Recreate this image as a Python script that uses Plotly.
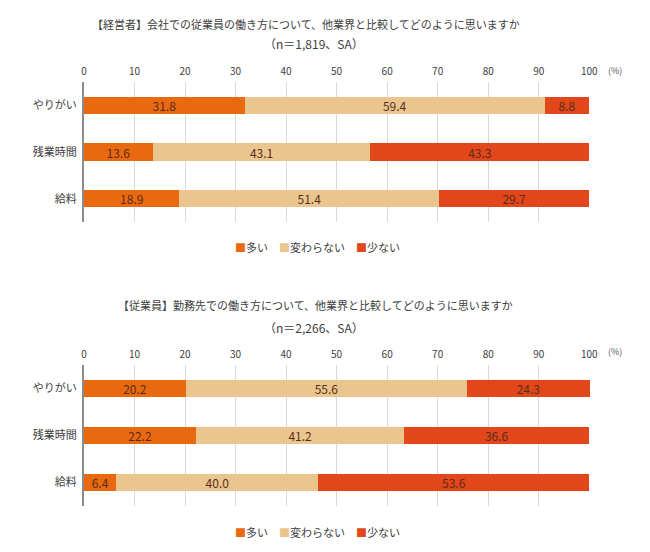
import plotly.graph_objects as go

categories = ["やりがい", "残業時間", "給料"]
series_names = ["多い", "変わらない", "少ない"]
mgr_many = [31.8, 13.6, 18.9]
mgr_same = [59.4, 43.1, 51.4]
mgr_few = [8.8, 43.3, 29.7]
emp_many = [20.2, 22.2, 6.4]
emp_same = [55.6, 41.2, 40.0]
emp_few = [24.3, 36.6, 53.6]
tick_vals = [0, 10, 20, 30, 40, 50, 60, 70, 80, 90, 100]

colors = ["#E8690F", "#EAC68E", "#E2461B"]
W, H = 650, 552
OFF = 8  # page body margin
JP = "Noto Sans CJK JP"

def py(px):
    return 1 - (px - OFF) / H

def px_x(px):
    return (px - OFF) / W

fig = go.Figure()

groups = [
    ([mgr_many, mgr_same, mgr_few], "x", "y"),
    ([emp_many, emp_same, emp_few], "x2", "y2"),
]
for vals_list, xa, ya in groups:
    for name, vals, col in zip(series_names, vals_list, colors):
        fig.add_trace(go.Bar(
            y=categories, x=vals, name=name, orientation="h",
            marker=dict(color=col, line=dict(width=0)),
            text=[f"{v:.1f}" for v in vals], textposition="inside",
            insidetextanchor="middle", textangle=0, constraintext="none",
            cliponaxis=False,
            textfont=dict(family=JP, size=12, color="#5a2c18"),
            xaxis=xa, yaxis=ya, width=0.37, showlegend=False,
            hoverinfo="skip",
        ))

xdom = [px_x(84), px_x(590)]
common_x = dict(
    range=[0, 100.15], tickvals=tick_vals, side="top", showgrid=True,
    gridcolor="#d9d9d9", gridwidth=1, zeroline=False, showline=False,
    ticks="", tickfont=dict(family=JP, size=10, color="#404040"),
    ticklabelstandoff=4, domain=xdom, fixedrange=True, automargin=False,
)
common_y = dict(
    categoryorder="array", categoryarray=categories, range=[2.5, -0.5],
    showline=True, linecolor="#8c8c8c", linewidth=2, showgrid=False,
    ticks="", tickfont=dict(family=JP, size=11, color="#404040"),
    ticklabelstandoff=3, zeroline=False, fixedrange=True, automargin=False,
)
fig.update_layout(
    width=W, height=H, margin=dict(l=0, r=0, t=0, b=0, autoexpand=False),
    paper_bgcolor="white", plot_bgcolor="white",
    barmode="stack", showlegend=False, uniformtext=dict(mode=False),
    font=dict(family=JP, color="#404040"),
    xaxis=dict(**common_x, anchor="y"),
    yaxis=dict(**common_y, domain=[py(222), py(82)], anchor="x"),
    xaxis2=dict(**common_x, anchor="y2"),
    yaxis2=dict(**common_y, domain=[py(506), py(365)], anchor="x2"),
)

titles = [
    ("【経営者】会社での従業員の働き方について、他業界と比較してどのように思いますか", 306, 24, 11),
    ("（n＝1,819、SA）", 314, 44, 12),
    ("【従業員】勤務先での働き方について、他業界と比較してどのように思いますか", 315, 305, 11),
    ("（n＝2,266、SA）", 314, 327, 12),
]
for txt, x, y, sz in titles:
    fig.add_annotation(text=txt, x=px_x(x), y=py(y), xref="paper", yref="paper",
                       xanchor="center", yanchor="middle", showarrow=False,
                       font=dict(family=JP, size=sz, color="#404040"))
for y in [70, 351]:
    fig.add_annotation(text="(%)", x=px_x(606), y=py(y), xref="paper", yref="paper",
                       xanchor="left", yanchor="middle", showarrow=False,
                       font=dict(family=JP, size=9, color="#595959"))

legend_txt = "\u3000".join(
    f"<span style='color:{c}'>■</span>{n}" for n, c in zip(series_names, colors)
)
for y in [247, 532]:
    fig.add_annotation(text=legend_txt, x=px_x(317), y=py(y), xref="paper", yref="paper",
                       xanchor="center", yanchor="middle", showarrow=False,
                       font=dict(family=JP, size=11, color="#404040"))

fig.write_html("out.html")
